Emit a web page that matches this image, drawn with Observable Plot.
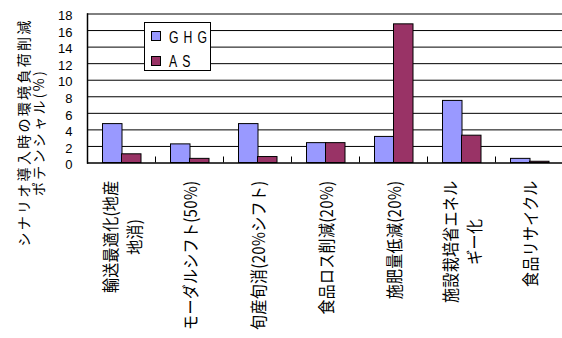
<!DOCTYPE html>
<html><head><meta charset="utf-8">
<script src="https://cdn.jsdelivr.net/npm/d3@7"></script>
<script src="https://cdn.jsdelivr.net/npm/@observablehq/plot@0.6"></script>
<style>
body{margin:0;background:#fff}
</style></head><body><div id="chart"></div>
<script>
const categories = ["輸送最適化(地産\n地消)", "モーダルシフト(50%)", "旬産旬消(20%シフト)", "食品ロス削減(20%)", "施肥量低減(20%)", "施設栽培省エネル\nギー化", "食品リサイクル"];
const series = ["GHG", "AS"];
const ghg = [4.7, 2.25, 4.7, 2.4, 3.15, 7.5, 0.5];
const as = [1.05, 0.5, 0.72, 2.4, 16.75, 3.3, 0.15];
const yTicks = [0, 2, 4, 6, 8, 10, 12, 14, 16, 18];
const yTitle = "シナリオ導入時の環境負荷削減\nポテンシャル(%)";
const colors = ["#9999FF", "#993366"];

const dataG = categories.map((c, i) => ({cat: c, series: series[0], value: ghg[i]}));
const dataA = categories.map((c, i) => ({cat: c, series: series[1], value: as[i]}));

const chart = Plot.plot({
  width: 562, height: 338,
  marginLeft: 87, marginRight: -1, marginTop: 13.5, marginBottom: 175.5,
  x: {domain: categories, padding: 0, round: false, axis: null},
  y: {domain: [0, 18], axis: null},
  style: {fontFamily: '"Noto Sans CJK JP", sans-serif', background: "#fff", overflow: "visible"},
  marks: [
    Plot.gridY(yTicks.slice(1), {stroke: "#000", strokeOpacity: 1}),
    Plot.axisY(yTicks, {label: null, tickSize: 0, tickPadding: 15, fontSize: 13, fontFamily: "Liberation Sans", dy: 2, fill: "#000"}),
    Plot.barY(dataG, {x: "cat", y: "value", fill: colors[0], stroke: "#000", insetLeft: 15.5, insetRight: 33}),
    Plot.barY(dataA, {x: "cat", y: "value", fill: colors[1], stroke: "#000", insetLeft: 34.5, insetRight: 14}),
    Plot.ruleY([0], {stroke: "#000", strokeWidth: 1.5}),
    Plot.frame({anchor: "left", stroke: "#000", strokeWidth: 1.5}),
    Plot.ruleX(categories.slice(0, -1), {x: d => d, y1: 0, y2: 0, insetBottom: 6, dx: 34, stroke: "#000"}),
    Plot.text(categories, {x: d => d, text: d => d, frameAnchor: "bottom", rotate: -90, textAnchor: "middle", lineAnchor: "middle", lineHeight: 1.38, fontSize: 17, fill: "#000"}),
    Plot.text([yTitle], {text: d => d, frameAnchor: "left", rotate: -90, textAnchor: "middle", lineAnchor: "middle", lineHeight: 1.07, fontSize: 14, dx: -56, dy: 44, fill: "#000"})
  ]
});
document.getElementById("chart").append(chart);
const svg = d3.select(chart);
const textGroups = chart.querySelectorAll('g[aria-label="text"]');
const xl = textGroups[0], yt = textGroups[1];
xl.setAttribute("letter-spacing", "0.4");
yt.setAttribute("letter-spacing", "2.3");

// top-align rotated category labels (text end at fixed y), lines centered; glyphs condensed along the text
const sx = 0.88;
xl.querySelectorAll("text").forEach(function(t) {
  const w = t.getBBox().width * sx;
  const m = t.getAttribute("transform").match(/translate\(([-\d.e]+),\s*([-\d.e]+)\)/);
  t.setAttribute("transform", `translate(${m[1]},${180 + w / 2}) rotate(-90) scale(${sx},1)`);
});

// legend
const lg = svg.append("g").attr("text-anchor", "start");
lg.append("rect").attr("x", 144.5).attr("y", 22.5).attr("width", 66).attr("height", 48)
  .attr("fill", "#fff").attr("stroke", "#000");
series.forEach((s, i) => {
  lg.append("rect").attr("x", 151.5).attr("y", 31.5 + i * 25).attr("width", 9).attr("height", 9)
    .attr("fill", colors[i]).attr("stroke", "#000");
  lg.append("text").attr("transform", `translate(169,${43 + i * 24.3}) scale(0.72,1)`)
    .attr("font-family", "Liberation Sans").attr("font-size", 17).attr("letter-spacing", 7)
    .attr("fill", "#000").text(s);
});
</script></body></html>
